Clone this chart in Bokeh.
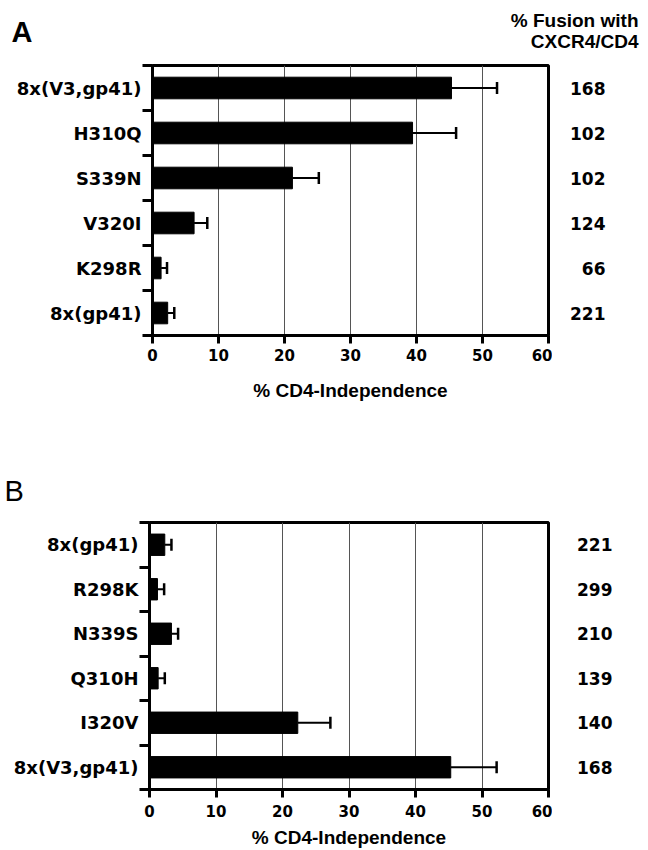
from bokeh.plotting import figure
from bokeh.models import (ColumnDataSource, Range1d, LinearAxis, FixedTicker,
                          Whisker, TeeHead)
from bokeh.layouts import column, row
from bokeh.core.properties import value
from bokeh.embed import file_html
from bokeh.resources import INLINE

# ---------------- data ----------------
a_names = ["8x(V3,gp41)", "H310Q", "S339N", "V320I", "K298R", "8x(gp41)"]
a_values = [45.3, 39.4, 21.2, 6.3, 1.3, 2.3]
a_errors = [6.9, 6.6, 4.0, 2.0, 0.9, 1.0]
a_fusion = ["168", "102", "102", "124", "66", "221"]

b_names = ["8x(gp41)", "R298K", "N339S", "Q310H", "I320V", "8x(V3,gp41)"]
b_values = [2.3, 1.2, 3.3, 1.3, 22.3, 45.3]
b_errors = [1.0, 1.0, 1.0, 1.0, 4.9, 6.9]
b_fusion = ["221", "299", "210", "139", "140", "168"]

x_ticks = [0, 10, 20, 30, 40, 50, 60]
x_label = "% CD4-Independence"
header = ["% Fusion with", "CXCR4/CD4"]

CAT_FONT = "DejaVu Sans"
HEAD_FONT = "Liberation Sans"
W = 648
PLOT_W = 552   # width of the bar figure (frame right edge at 548)


def blank(width, height, x_range, y_range):
    f = figure(width=width, height=height, output_backend="svg",
               toolbar_location=None, x_range=x_range, y_range=y_range,
               min_border_left=0, min_border_right=0,
               x_axis_location=None, y_axis_location=None)
    f.grid.grid_line_color = None
    f.outline_line_color = None
    f.background_fill_color = "white"
    f.border_fill_color = "white"
    return f


def header_fig(height, letter, letter_style, letter_xy, show_header):
    f = blank(W, height, Range1d(0, W), Range1d(height, 0))
    f.min_border_top = 0
    f.min_border_bottom = 0
    f.text(x=[letter_xy[0]], y=[letter_xy[1]], text=[letter],
           text_align="left", text_baseline="middle",
           text_font=value(HEAD_FONT), text_font_style=letter_style,
           text_font_size=value("29px"), text_color="black")
    if show_header:
        f.text(x=[638, 638], y=[20, 41], text=header,
               text_align="right", text_baseline="middle",
               text_font=value(HEAD_FONT), text_font_style="bold",
               text_font_size=value("19px"), text_color="black")
    return f


def panel(names, values, errors, fusion, fig_h, left, top, frame_h,
          fusion_right_px, tick_standoff, label_standoff):
    n = len(names)
    ys = list(range(1, n + 1))
    hi = [v + e for v, e in zip(values, errors)]
    src = ColumnDataSource(dict(y=ys, v=values, hi=hi, fusion=fusion))
    yr = Range1d(n + 0.5, 0.5)
    bottom = fig_h - top - frame_h

    p = figure(width=PLOT_W, height=fig_h, output_backend="svg",
               toolbar_location=None, x_range=Range1d(0, 60), y_range=yr,
               min_border_left=left, min_border_right=PLOT_W - 548,
               min_border_top=top, min_border_bottom=bottom,
               x_axis_location=None, y_axis_location=None)
    p.background_fill_color = "white"
    p.border_fill_color = "white"
    p.outline_line_color = "black"
    p.outline_line_width = 3

    # x axis (bottom)
    xa = LinearAxis(ticker=FixedTicker(ticks=x_ticks))
    xa.axis_line_width = 3
    xa.major_tick_line_width = 3
    xa.major_tick_out = 8
    xa.major_tick_in = 0
    xa.minor_tick_line_color = None
    xa.major_label_standoff = tick_standoff
    xa.major_label_text_font = CAT_FONT
    xa.major_label_text_font_style = "bold"
    xa.major_label_text_font_size = "15px"
    xa.major_label_text_color = "black"
    xa.axis_label = x_label
    xa.axis_label_text_font = HEAD_FONT
    xa.axis_label_text_font_style = "bold"
    xa.axis_label_text_font_size = "19px"
    xa.axis_label_text_color = "black"
    xa.axis_label_standoff = label_standoff
    p.add_layout(xa, "below")

    # y axis (left): labels at centers, ticks at boundaries
    ya = LinearAxis(ticker=FixedTicker(ticks=ys,
                                       minor_ticks=[k + 0.5 for k in range(n + 1)]))
    ya.major_label_overrides = {y: nm for y, nm in zip(ys, names)}
    ya.axis_line_width = 3
    ya.major_tick_out = 0
    ya.major_tick_in = 0
    ya.major_tick_line_color = None
    ya.minor_tick_out = 10
    ya.minor_tick_in = 0
    ya.minor_tick_line_width = 3
    ya.major_label_standoff = 1
    ya.major_label_text_font = CAT_FONT
    ya.major_label_text_font_style = "bold"
    ya.major_label_text_font_size = "18px"
    ya.major_label_text_color = "black"
    p.add_layout(ya, "left")

    p.xgrid.ticker = FixedTicker(ticks=x_ticks)
    p.xgrid.grid_line_color = "#555555"
    p.xgrid.grid_line_width = 1
    p.ygrid.grid_line_color = None

    p.hbar(y="y", left=0, right="v", height=0.48, source=src,
           fill_color="black", line_color="black")
    p.add_layout(Whisker(source=src, base="y", lower="v", upper="hi",
                         dimension="width", line_width=2, line_color="black",
                         upper_head=TeeHead(size=12, line_width=2.5,
                                            line_color="black"),
                         lower_head=None))

    # fusion values column, sharing the y range
    f = blank(W - PLOT_W, fig_h, Range1d(PLOT_W, W), yr)
    f.min_border_top = top
    f.min_border_bottom = bottom
    f.text(x=fusion_right_px, y="y", text="fusion", source=src,
           text_align="right", text_baseline="middle",
           text_font=value(CAT_FONT), text_font_style="bold",
           text_font_size=value("17px"), text_color="black")
    return row(p, f, spacing=0)


head_a = header_fig(55, "A", "bold", (11, 31), True)
row_a = panel(a_names, a_values, a_errors, a_fusion, 405, left=152, top=10,
              frame_h=270, fusion_right_px=605, tick_standoff=5,
              label_standoff=16)
head_b = header_fig(50, "B", "normal", (4, 30), False)
row_b = panel(b_names, b_values, b_errors, b_fusion, 340, left=149, top=12,
              frame_h=267, fusion_right_px=612, tick_standoff=7,
              label_standoff=7)

layout = column(head_a, row_a, head_b, row_b, spacing=0)
open("out.html", "w").write(file_html(layout, INLINE))
